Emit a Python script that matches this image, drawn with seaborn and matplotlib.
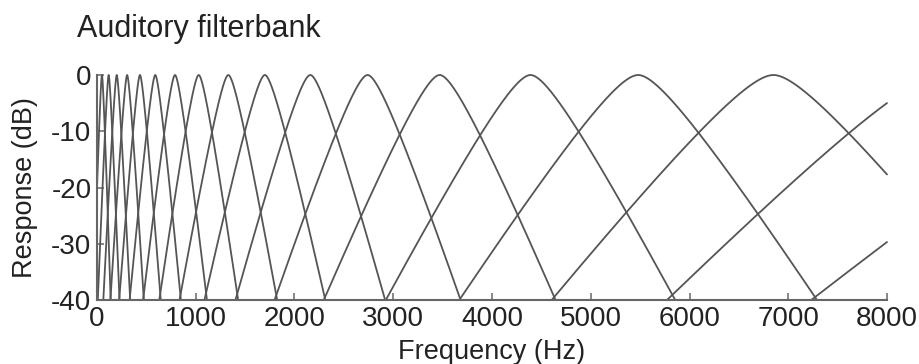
import numpy as np
import pandas as pd
import matplotlib
matplotlib.use("Agg")
import matplotlib.pyplot as plt
import seaborn as sns

# Centre frequencies of the auditory filters (Hz)
centre_freqs = [50, 118, 200, 305, 435, 590, 790, 1030, 1330, 1700,
                2160, 2740, 3470, 4390, 5480, 6850, 8560, 10700]
x_ticks = [0, 1000, 2000, 3000, 4000, 5000, 6000, 7000, 8000]
y_ticks = [0, -10, -20, -30, -40]

# Rounded-exponential (roex) filter shapes, bandwidth from the ERB scale
freq = np.arange(0, 8001, 1.0)
frames = []
for fc in centre_freqs:
    erb = 24.7 * (4.37 * fc / 1000.0 + 1.0)
    p = 4.0 * fc / erb
    g = np.abs(freq - fc) / fc
    resp = 10 * np.log10((1 + p * g) * np.exp(-p * g))
    resp = np.where(resp >= -40, resp, np.nan)
    frames.append(pd.DataFrame({"freq": freq, "resp": resp, "cf": fc}))
df = pd.concat(frames, ignore_index=True)

sns.set_theme(style="ticks")
plt.rcParams["font.family"] = ["Liberation Sans", "DejaVu Sans"]
plt.rcParams["axes.unicode_minus"] = False

fig = plt.figure(figsize=(9.2, 3.64), dpi=100)
ax = fig.add_axes([97 / 920, 1 - 300 / 364, 790 / 920, 225 / 364])

line_color = "#555555"
sns.lineplot(data=df, x="freq", y="resp", units="cf", estimator=None,
             color=line_color, linewidth=1.3, ax=ax, legend=False)
for ln in ax.get_lines():
    ln.set_clip_on(False)

ax.set_xlim(0, 8000)
ax.set_ylim(-40, 0)
ax.set_xticks(x_ticks)
ax.set_xticklabels([str(v) for v in x_ticks])
ax.set_yticks(y_ticks)
ax.set_yticklabels([str(v) for v in y_ticks])

sns.despine(ax=ax)
for side in ("left", "bottom"):
    ax.spines[side].set_color("#666666")
    ax.spines[side].set_linewidth(1.5)
ax.tick_params(direction="in", length=5, width=1.1, color="#666666",
               labelsize=20, labelcolor="#222222", pad=4)

ax.set_xlabel("Frequency (Hz)", fontsize=19.5, color="#222222")
ax.set_ylabel("Response (dB)", fontsize=19.5, color="#222222")
ax.xaxis.set_label_coords(0.5, -0.175)
ax.yaxis.set_label_coords(-0.075, 0.5)

fig.text(77 / 920, 1 - 37 / 364, "Auditory filterbank", ha="left",
         va="baseline", fontsize=22, color="#222222")

fig.savefig("out.png", dpi=100, facecolor="white")
